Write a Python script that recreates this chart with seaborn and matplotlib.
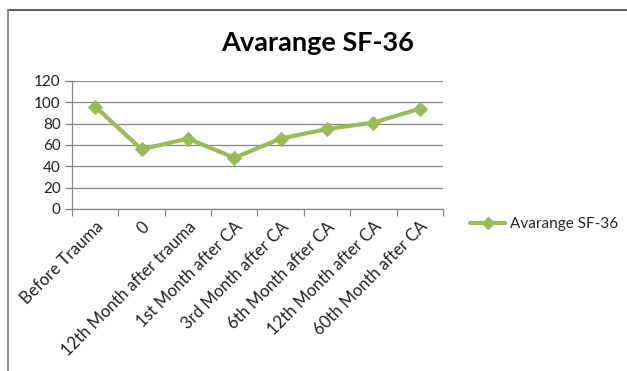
import matplotlib
matplotlib.use("Agg")
import matplotlib.pyplot as plt
from matplotlib.lines import Line2D
import numpy as np
import pandas as pd
import seaborn as sns

categories = [
    "Before Trauma",
    "0",
    "12th Month after trauma",
    "1st Month after CA",
    "3rd Month after CA",
    "6th Month after CA",
    "12th Month after CA",
    "60th Month after CA",
]
sf36_values = [96, 56, 66, 48, 66, 75, 81, 94]
y_ticks = [0, 20, 40, 60, 80, 100, 120]
series_name = "Avarange SF-36"

sns.set_theme(style="white")
plt.rcParams["font.family"] = ["Lato", "DejaVu Sans"]

df = pd.DataFrame({"period": categories, "score": sf36_values})

green = "#9BBB59"
grid_gray = "#878787"

fig = plt.figure(figsize=(6.27, 3.71), dpi=100)
ax = fig.add_axes([0.1148, 0.4367, 0.5917, 0.345])

sns.lineplot(data=df, x="period", y="score", sort=False, ax=ax,
             color=green, linewidth=3.0, marker="D", markersize=7,
             markeredgecolor=green, markerfacecolor=green)

ax.set_ylim(0, 120)
ax.set_yticks(y_ticks)
ax.set_xlim(-0.5, len(categories) - 0.5)
ax.set_xlabel("")
ax.set_ylabel("")
ax.yaxis.grid(True, color=grid_gray, linewidth=0.9)
ax.set_axisbelow(True)

for side in ["top", "right"]:
    ax.spines[side].set_visible(False)
for side in ["left", "bottom"]:
    ax.spines[side].set_color(grid_gray)
    ax.spines[side].set_linewidth(0.9)

ax.set_xticks(range(len(categories)))
ax.set_xticklabels(categories, rotation=45, ha="right", rotation_mode="anchor",
                   fontsize=12, color="#222222")
ax.tick_params(axis="x", which="major", length=0, pad=7)
ax.set_xticks(np.arange(-0.5, len(categories)), minor=True)
ax.tick_params(axis="x", which="minor", length=5, width=0.9, color=grid_gray, bottom=True)
ax.tick_params(axis="y", length=5, width=0.9, color=grid_gray, left=True,
               labelsize=11, labelcolor="#222222", pad=3)

fig.text(0.507, 0.884, series_name, ha="center", va="center",
         fontsize=19.5, fontweight="bold", color="black")

handle = Line2D([], [], color=green, linewidth=3.0, marker="D", markersize=6)
fig.legend([handle], [series_name], loc="center left",
           bbox_to_anchor=(0.728, 0.396), frameon=False, fontsize=11,
           handlelength=2.3, handletextpad=0.3)

# Frame lines along the top and left edges of the figure
fig.add_artist(Line2D([0.0135, 1.0], [0.973, 0.973], color="#404040", linewidth=1.2,
                      transform=fig.transFigure))
fig.add_artist(Line2D([0.0135, 0.0135], [0.0, 0.973], color="#808080", linewidth=1.2,
                      transform=fig.transFigure))

fig.savefig("out.png", dpi=100)
